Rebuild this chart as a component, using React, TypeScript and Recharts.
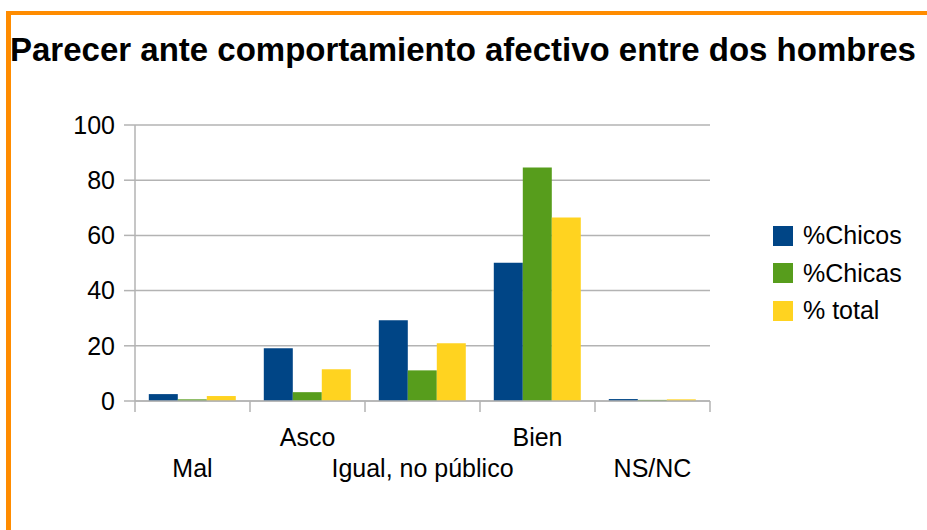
import { BarChart, Bar, XAxis, YAxis, CartesianGrid } from "recharts";

const categories = ["Mal", "Asco", "Igual, no público", "Bien", "NS/NC"];
const chicos = [2.5, 19.1, 29.3, 50.1, 0.7];
const chicas = [0.6, 3.2, 11.1, 84.6, 0.4];
const total = [1.8, 11.5, 20.9, 66.5, 0.6];
const yTicks = [0, 20, 40, 60, 80, 100];

const series = [
  { key: "chicos", name: "%Chicos", color: "#004586" },
  { key: "chicas", name: "%Chicas", color: "#579d1c" },
  { key: "total", name: "% total", color: "#ffd320" },
];

const data = categories.map((c, i) => ({
  name: c,
  chicos: chicos[i],
  chicas: chicas[i],
  total: total[i],
}));

const FONT = '"Liberation Sans", Arial, sans-serif';
const GRID = "#b3b3b3";
const W = 927;
const H = 530;
const PLOT_LEFT = 135;
const PLOT_RIGHT = 710;
const BAND = (PLOT_RIGHT - PLOT_LEFT) / categories.length;

const XTick = (props: any) => {
  const { x, y, payload, index } = props;
  const row2 = index % 2 === 0;
  const axisY = y - 10;
  return (
    <g>
      <line x1={x - BAND / 2} x2={x - BAND / 2} y1={axisY} y2={axisY + 11} stroke={GRID} strokeWidth={1.5} />
      {index === categories.length - 1 && (
        <line x1={x + BAND / 2} x2={x + BAND / 2} y1={axisY} y2={axisY + 11} stroke={GRID} strokeWidth={1.5} />
      )}
      <text x={x} y={axisY + (row2 ? 76 : 45)} textAnchor="middle" fontSize={25} fill="#000" fontFamily={FONT}>
        {payload.value}
      </text>
    </g>
  );
};

export default function App() {
  return (
    <div style={{ position: "absolute", left: 0, top: 0, width: W, height: H, background: "#fff", overflow: "hidden" }}>
      <div style={{ position: "absolute", left: 6, top: 11, width: W, height: 4, background: "#ff8c00" }} />
      <div style={{ position: "absolute", left: 6, top: 11, width: 5, height: H, background: "#ff8c00" }} />
      <div
        style={{
          position: "absolute",
          left: 10,
          top: 33,
          fontFamily: FONT,
          fontWeight: "bold",
          fontSize: 33,
          lineHeight: 1,
          whiteSpace: "nowrap",
          color: "#000",
        }}
      >
        Parecer ante comportamiento afectivo entre dos hombres
      </div>
      <div style={{ position: "absolute", left: 0, top: 0 }}>
        <BarChart
          width={W}
          height={H}
          data={data}
          margin={{ top: 125, right: W - PLOT_RIGHT, left: 0, bottom: 0 }}
          barCategoryGap="12%"
          barGap={0}
        >
          <CartesianGrid vertical={false} stroke={GRID} strokeWidth={1.5} />
          <XAxis
            dataKey="name"
            interval={0}
            height={H - 401}
            axisLine={{ stroke: GRID, strokeWidth: 1.5 }}
            tickLine={false}
            tickSize={10}
            tickMargin={0}
            tick={<XTick />}
          />
          <YAxis
            width={PLOT_LEFT}
            domain={[0, 100]}
            ticks={yTicks}
            interval={0}
            axisLine={{ stroke: GRID, strokeWidth: 1.5 }}
            tickLine={{ stroke: GRID, strokeWidth: 1.5 }}
            tickSize={11}
            tickMargin={9}
            tick={{ fontSize: 25, fill: "#000", fontFamily: FONT }}
          />
          <YAxis
            yAxisId="r"
            orientation="right"
            width={0}
            domain={[0, 100]}
            tick={false}
            tickLine={false}
            axisLine={{ stroke: GRID, strokeWidth: 1.5 }}
          />
          {series.map((s) => (
            <Bar key={s.key} dataKey={s.key} name={s.name} fill={s.color} isAnimationActive={false} />
          ))}
        </BarChart>
      </div>
      <div style={{ position: "absolute", left: 773, top: 217, fontFamily: FONT }}>
        {series.map((s) => (
          <div key={s.key} style={{ display: "flex", alignItems: "center", height: 37.5 }}>
            <span style={{ width: 20, height: 20, background: s.color, marginRight: 10, display: "inline-block" }} />
            <span style={{ fontSize: 25, color: "#000" }}>{s.name}</span>
          </div>
        ))}
      </div>
    </div>
  );
}
